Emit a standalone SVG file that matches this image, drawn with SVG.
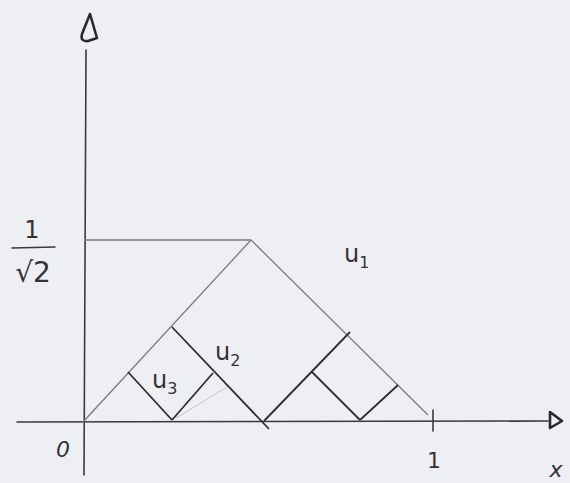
<svg xmlns="http://www.w3.org/2000/svg" width="570" height="483" viewBox="0 0 570 483">
<style>
.axis{stroke:#3a3a3a;stroke-width:1.6;fill:none;stroke-linecap:round}
.head{stroke:#2a2a2a;stroke-width:2.6;fill:none;stroke-linejoin:round}
.u1{stroke:#7a7a7a;stroke-width:1.3;fill:none}
.u2{stroke:#2e2e2e;stroke-width:1.8;fill:none}
.faint{stroke:#c4c4c4;stroke-width:1;fill:none}
.lbl{font-family:"DejaVu Sans",sans-serif;fill:#333}
</style>
<rect width="570" height="483" fill="#eeeff3"/>
<g id="axes">
<line class="axis" x1="86" y1="50" x2="84" y2="475"/>
<path class="head" d="M90,14 L82,34 Q80,42 88,41 L97,38 Z"/>
<line class="axis" x1="17" y1="422" x2="548" y2="421"/>
<path class="head" d="M550,412 L562,421 L550,428 Z"/>
<line class="axis" x1="433" y1="410" x2="433" y2="431"/>
</g>
<g id="connectors">
<line class="u1" x1="85" y1="240" x2="251" y2="240"/>
<line class="u1" x1="83" y1="422" x2="251" y2="240"/>
<line class="u1" x1="251" y1="240" x2="428" y2="415"/>
<line class="u2" x1="172" y1="327" x2="269" y2="429"/>
<line class="u2" x1="264" y1="421" x2="350" y2="332"/>
<line class="u2" x1="128" y1="372" x2="172" y2="420"/>
<line class="u2" x1="172" y1="420" x2="213" y2="373"/>
<line class="u2" x1="312" y1="372" x2="360" y2="420"/>
<line class="u2" x1="360" y1="420" x2="398" y2="385"/>
<line class="faint" x1="176" y1="418" x2="227" y2="387"/>
</g>
<g id="labels">
<text class="lbl" x="32" y="238" font-size="24" text-anchor="middle">1</text>
<line class="axis" x1="12" y1="248" x2="55" y2="247"/>
<text class="lbl" x="33" y="282" font-size="28" text-anchor="middle">√2</text>
<text class="lbl" x="63" y="457" font-size="22" font-style="italic" text-anchor="middle">0</text>
<text class="lbl" x="434" y="468" font-size="22" text-anchor="middle">1</text>
<text class="lbl" x="556" y="477" font-size="22" font-style="italic" text-anchor="middle">x</text>
<text class="lbl" x="344" y="262" font-size="24">u<tspan font-size="16" dy="6">1</tspan></text>
<text class="lbl" x="215" y="360" font-size="24">u<tspan font-size="16" dy="6">2</tspan></text>
<text class="lbl" x="152" y="388" font-size="24">u<tspan font-size="16" dy="6">3</tspan></text>
</g>
</svg>
